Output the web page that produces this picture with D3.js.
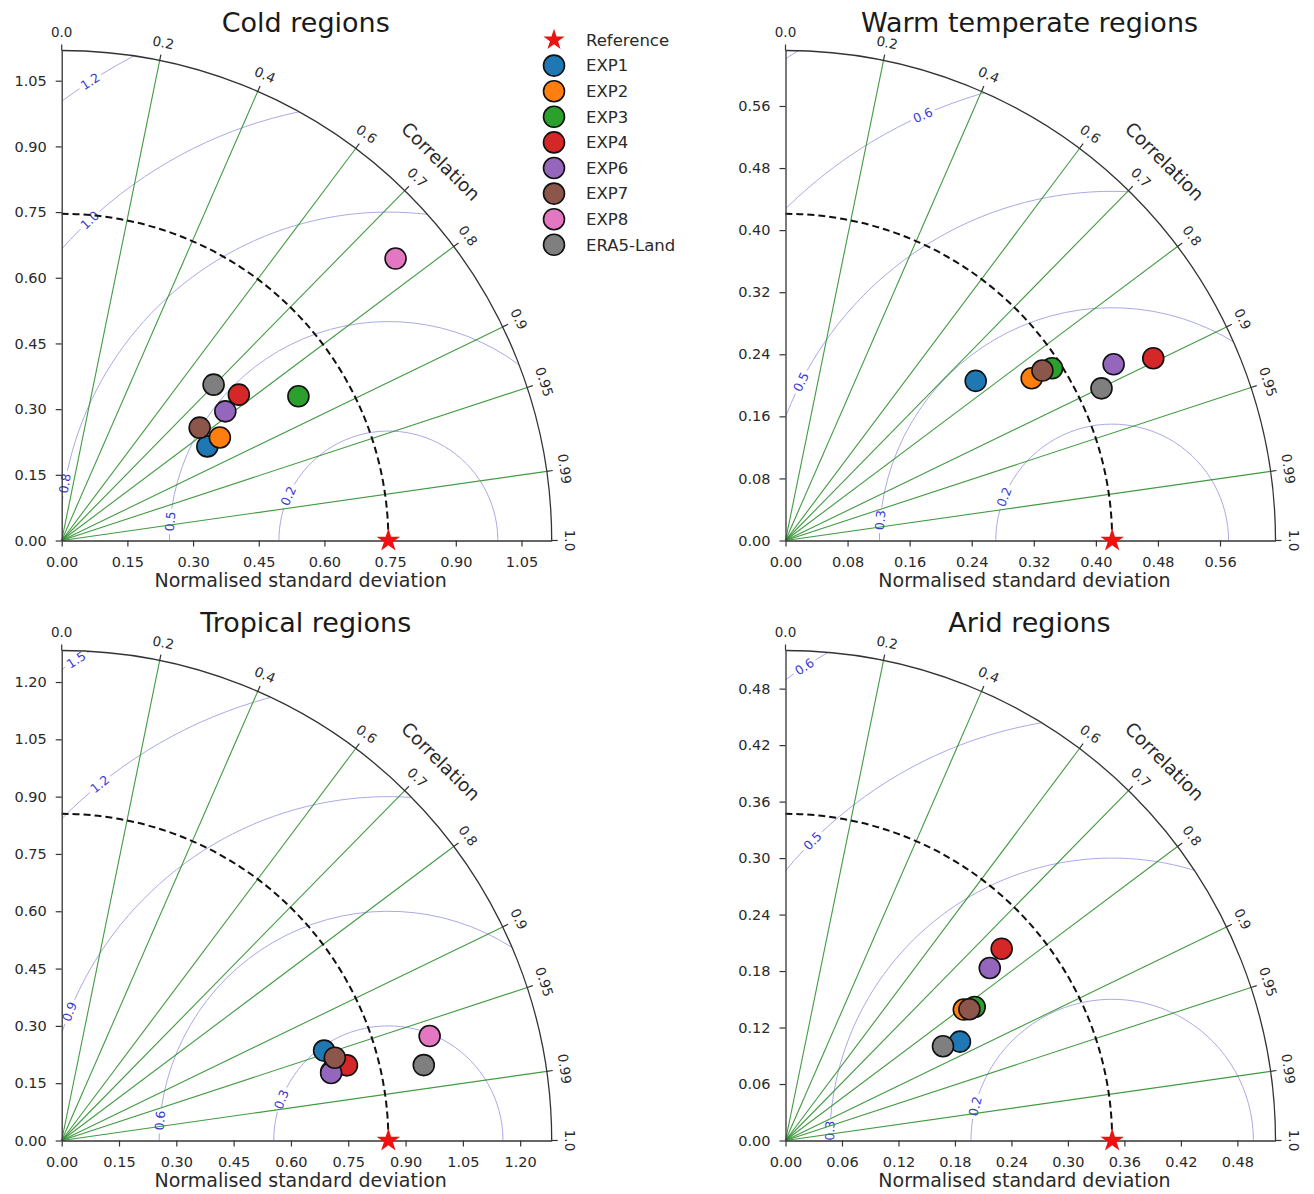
<!DOCTYPE html>
<html>
<head>
<meta charset="utf-8">
<script src="https://cdn.jsdelivr.net/npm/d3@7"></script>
<style>
  body { margin: 0; background: #fff; }
  text { font-family: "DejaVu Sans", sans-serif; }
</style>
</head>
<body>
<svg id="chart" width="1314" height="1194"></svg>
<script>
// ---------------- DATA ----------------
const regions = ["Cold regions", "Warm temperate regions", "Tropical regions", "Arid regions"];
const seriesNames = ["EXP1", "EXP2", "EXP3", "EXP4", "EXP6", "EXP7", "EXP8", "ERA5-Land"];
const seriesColors = ["#1f77b4", "#ff7f0e", "#2ca02c", "#d62728", "#9467bd", "#8c564b", "#e377c2", "#7f7f7f"];

// reference normalised standard deviation per region
const refStd = [0.746, 0.421, 0.855, 0.347];

// standard deviations per region (order = seriesNames); null = not shown
const stdCold     = [0.396, 0.431, 0.633, 0.524, 0.476, 0.407, 0.998, 0.497];
const stdWarm     = [0.320, 0.380, 0.409, 0.529, 0.480, 0.397, null,  0.452];
const stdTropical = [0.726, 0.728, 0.746, 0.772, 0.727, 0.747, 1.001, 0.968];
const stdArid     = [0.213, 0.235, 0.246, 0.307, 0.284, 0.240, null,  0.195];

// correlations per region
const corrCold     = [0.840, 0.838, 0.854, 0.772, 0.785, 0.774, 0.764, 0.698];
const corrWarm     = [0.766, 0.835, 0.840, 0.896, 0.881, 0.834, null,  0.901];
const corrTropical = [0.946, 0.969, 0.959, 0.967, 0.970, 0.957, 0.962, 0.979];
const corrArid     = [0.870, 0.806, 0.817, 0.748, 0.764, 0.814, null,  0.858];

// axis tick values
const stdTicksCold     = [0, 0.15, 0.30, 0.45, 0.60, 0.75, 0.90, 1.05];
const stdTicksWarm     = [0, 0.08, 0.16, 0.24, 0.32, 0.40, 0.48, 0.56];
const stdTicksTropical = [0, 0.15, 0.30, 0.45, 0.60, 0.75, 0.90, 1.05, 1.20];
const stdTicksArid     = [0, 0.06, 0.12, 0.18, 0.24, 0.30, 0.36, 0.42, 0.48];

const corrTicks = [0.0, 0.2, 0.4, 0.6, 0.7, 0.8, 0.9, 0.95, 0.99, 1.0];
const corrTickLabels = ["0.0", "0.2", "0.4", "0.6", "0.7", "0.8", "0.9", "0.95", "0.99", "1.0"];
const corrLines = [0.2, 0.4, 0.6, 0.7, 0.8, 0.9, 0.95, 0.99];

// centred RMS difference contour levels and their labels
const rmsLevelsCold     = [0.25, 0.5, 0.75, 1.0, 1.25];
const rmsLevelsWarm     = [0.15, 0.30, 0.45, 0.60, 0.75];
const rmsLevelsTropical = [0.3, 0.6, 0.9, 1.2, 1.5];
const rmsLevelsArid     = [0.15, 0.30, 0.45, 0.60];
const rmsLabelsCold     = ["0.2", "0.5", "0.8", "1.0", "1.2"];
const rmsLabelsWarm     = ["0.2", "0.3", "0.5", "0.6", null];
const rmsLabelsTropical = ["0.3", "0.6", "0.9", "1.2", "1.5"];
const rmsLabelsArid     = ["0.2", "0.3", "0.5", "0.6"];

// ---------------- LAYOUT ----------------
const R = 490;
const origins = [[61.7, 540.5], [785.5, 540.5], [61.7, 1140.5], [785.5, 1140.5]];
// angle (deg, about the reference point) where each contour label sits
const labelAngles = [
  [156, 175, 170, 133, 123],
  [158, 175, 153, 114, null],
  [159, 175, 158, 129, 123],
  [166, 178, 135, 123]
];

const panels = [
  {name: regions[0], ref: refStd[0], std: stdCold, corr: corrCold, ticks: stdTicksCold, levels: rmsLevelsCold, labels: rmsLabelsCold},
  {name: regions[1], ref: refStd[1], std: stdWarm, corr: corrWarm, ticks: stdTicksWarm, levels: rmsLevelsWarm, labels: rmsLabelsWarm},
  {name: regions[2], ref: refStd[2], std: stdTropical, corr: corrTropical, ticks: stdTicksTropical, levels: rmsLevelsTropical, labels: rmsLabelsTropical},
  {name: regions[3], ref: refStd[3], std: stdArid, corr: corrArid, ticks: stdTicksArid, levels: rmsLevelsArid, labels: rmsLabelsArid}
];

const svg = d3.select("#chart");
const txtColor = "#2a2a2a";
const axisColor = "#333";

panels.forEach((p, i) => {
  const [ox, oy] = origins[i];
  const smax = 1.5 * p.ref;
  const r = d3.scaleLinear().domain([0, smax]).range([0, R]);
  const yS = d3.scaleLinear().domain([0, smax]).range([0, -R]);
  const g = svg.append("g").attr("transform", `translate(${ox},${oy})`);

  const clipId = "clipq" + i;
  g.append("clipPath").attr("id", clipId)
    .append("path").attr("d", `M0,0L${R},0A${R},${R} 0 0 0 0,${-R}Z`);

  // RMS contours
  const cg = g.append("g").attr("clip-path", `url(#${clipId})`);
  const lg = g.append("g");
  const cx = r(p.ref);
  p.levels.forEach((lv, k) => {
    const rr = r(lv);
    const ang = labelAngles[i][k];
    const txt = p.labels[k];
    const pth = d3.path();
    if (ang == null || txt == null) {
      pth.arc(cx, 0, rr, 0, 2 * Math.PI);
    } else {
      const phi = ang * Math.PI / 180;
      const lx = cx + rr * Math.cos(phi), ly = -rr * Math.sin(phi);
      let rot = -(ang + 90);
      while (rot <= -90) rot += 180;
      while (rot > 90) rot -= 180;
      const t = lg.append("text")
        .attr("transform", `translate(${lx},${ly}) rotate(${rot})`)
        .attr("text-anchor", "middle")
        .attr("dy", "0.35em")
        .attr("font-size", 12.5)
        .attr("fill", "#3a3ad4")
        .text(txt);
      const w = t.node().getComputedTextLength();
      const half = (w / 2 + 3) / rr;
      pth.arc(cx, 0, rr, -phi + half, -phi - half + 2 * Math.PI, false);
    }
    cg.insert("path", ":first-child").attr("d", pth.toString())
      .attr("fill", "none").attr("stroke", "#a9a9e6").attr("stroke-width", 1);
  });

  // correlation lines
  g.append("g").selectAll("line").data(corrLines).join("line")
    .attr("x1", 0).attr("y1", 0)
    .attr("x2", c => R * c)
    .attr("y2", c => -R * Math.sqrt(1 - c * c))
    .attr("stroke", "#2e8f2e").attr("stroke-opacity", 0.9).attr("stroke-width", 1.1);

  // reference std dashed arc
  const rp = d3.path();
  rp.arc(0, 0, r(p.ref), 0, -Math.PI / 2, true);
  g.append("path").attr("d", rp.toString()).attr("fill", "none")
    .attr("stroke", "#111").attr("stroke-width", 2).attr("stroke-dasharray", "7,4");

  // outer arc
  g.append("path").attr("d", `M${R},0A${R},${R} 0 0 0 0,${-R}`)
    .attr("fill", "none").attr("stroke", axisColor).attr("stroke-width", 1.3);

  // correlation ticks & labels
  const ct = g.append("g");
  corrTicks.forEach((c, k) => {
    const th = Math.acos(c);
    const co = Math.cos(th), si = Math.sin(th);
    ct.append("line").attr("x1", R * co).attr("y1", -R * si)
      .attr("x2", (R + 6) * co).attr("y2", -(R + 6) * si)
      .attr("stroke", axisColor).attr("stroke-width", 1.2);
    const rot = 90 - th * 180 / Math.PI;
    ct.append("text")
      .attr("transform", `translate(${(R + 18) * co},${-(R + 18) * si}) rotate(${rot})`)
      .attr("text-anchor", "middle").attr("dy", "0.35em")
      .attr("font-size", 13.5).attr("fill", txtColor)
      .text(corrTickLabels[k]);
  });
  const ca = 45 * Math.PI / 180;
  g.append("text")
    .attr("transform", `translate(${(R + 46) * Math.cos(ca)},${-(R + 46) * Math.sin(ca)}) rotate(45)`)
    .attr("text-anchor", "middle").attr("dy", "0.35em")
    .attr("font-size", 18.5).attr("fill", txtColor).text("Correlation");

  // radial axes
  const fmt = d3.format(".2f");
  const ax = g.append("g").call(d3.axisBottom(r).tickValues(p.ticks).tickFormat(fmt)
    .tickSize(6).tickSizeOuter(0).tickPadding(10));
  const ay = g.append("g").call(d3.axisLeft(yS).tickValues(p.ticks).tickFormat(fmt)
    .tickSize(6).tickSizeOuter(0).tickPadding(9));
  [ax, ay].forEach(a => {
    a.select(".domain").attr("stroke", axisColor).attr("stroke-width", 1.3);
    a.selectAll(".tick line").attr("stroke", axisColor).attr("stroke-width", 1.2);
    a.selectAll(".tick text").attr("font-size", 14.5).attr("fill", txtColor)
      .attr("font-family", "DejaVu Sans");
  });

  g.append("text").attr("x", 239).attr("y", 40).attr("dy", "0.35em")
    .attr("text-anchor", "middle").attr("font-size", 19).attr("fill", txtColor)
    .text("Normalised standard deviation");

  g.append("text").attr("x", 244).attr("y", -518).attr("dy", "0.35em")
    .attr("text-anchor", "middle").attr("font-size", 27).attr("fill", "#1a1a1a")
    .text(p.name);

  // model points
  const pts = seriesNames.map((n, k) => ({n, k, s: p.std[k], c: p.corr[k]}))
    .filter(d => d.s != null && d.c != null);
  g.append("g").selectAll("circle").data(pts).join("circle")
    .attr("cx", d => r(d.s * d.c))
    .attr("cy", d => -r(d.s * Math.sqrt(1 - d.c * d.c)))
    .attr("r", 10.5)
    .attr("fill", d => seriesColors[d.k])
    .attr("stroke", "#111").attr("stroke-width", 1.6);

  // reference star
  g.append("path").attr("d", d3.symbol(d3.symbolStar, 170)())
    .attr("transform", `translate(${r(p.ref)},0)`)
    .attr("fill", "#ee1111");
});

// legend
const leg = svg.append("g").attr("transform", "translate(554,40)");
const legItems = ["Reference"].concat(seriesNames);
legItems.forEach((name, k) => {
  const y = k * 25.6;
  if (k === 0) {
    leg.append("path").attr("d", d3.symbol(d3.symbolStar, 140)())
      .attr("transform", `translate(0,${y})`).attr("fill", "#ee1111");
  } else {
    leg.append("circle").attr("cx", 0).attr("cy", y).attr("r", 10.5)
      .attr("fill", seriesColors[k - 1]).attr("stroke", "#111").attr("stroke-width", 1.6);
  }
  leg.append("text").attr("x", 32).attr("y", y).attr("dy", "0.35em")
    .attr("font-size", 16.5).attr("fill", txtColor).text(name);
});
</script>
</body>
</html>
